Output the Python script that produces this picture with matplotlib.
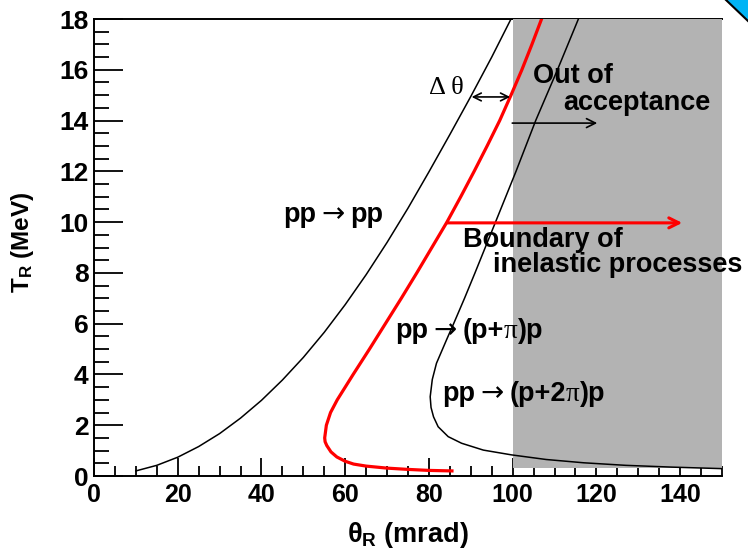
import matplotlib
matplotlib.use("Agg")
import matplotlib.pyplot as plt
from matplotlib.patches import Rectangle, Polygon
from matplotlib.lines import Line2D
from matplotlib.offsetbox import TextArea, HPacker, AnnotationBbox

plt.rcParams['font.family'] = ['Liberation Sans', 'DejaVu Sans']
plt.rcParams['font.weight'] = 'bold'
plt.rcParams['mathtext.fontset'] = 'custom'
plt.rcParams['mathtext.rm'] = 'Liberation Sans:bold'
plt.rcParams['mathtext.bf'] = 'Liberation Sans:bold'
plt.rcParams['mathtext.it'] = 'Liberation Sans:bold'
plt.rcParams['mathtext.sf'] = 'Liberation Sans:bold'

# ---- data ----
# pp -> pp (elastic)
el_theta = [10, 15, 20, 25, 30, 35, 40, 45, 50, 55, 60, 65, 70, 75, 80, 85, 90, 95, 99.6]
el_T = [0.2, 0.42, 0.74, 1.16, 1.67, 2.28, 2.98, 3.78, 4.67, 5.66, 6.75, 7.93, 9.2,
        10.55, 11.98, 13.45, 14.95, 16.5, 18.0]

# pp -> (p+pi)p  (boundary of inelastic processes)
in1_theta = [85.5, 80, 75, 70, 65, 62, 60, 58, 56.6, 55.6, 55.2, 55.1, 55.5, 56.5,
             58.1, 60.0, 61.9, 65.8, 69.6, 73.4, 77.1, 80.7, 84.3, 87.6, 90.8, 93.9,
             96.9, 99.6, 102.2, 104.6, 106.9]
in1_T = [0.2, 0.22, 0.26, 0.31, 0.39, 0.47, 0.58, 0.75, 0.95, 1.2, 1.35, 1.5, 2.0, 2.5,
         3.0, 3.5, 4.0, 5.0, 6.0, 7.0, 8.0, 9.0, 10.0, 11.0, 12.0, 13.0,
         14.0, 15.0, 16.0, 17.0, 18.0]

# pp -> (p+2pi)p
in2_theta = [115.7, 110.7, 105.5, 100.8, 95.9, 91.0, 88.5, 85.9, 84.3, 81.8, 80.8, 80.3,
             80.5, 81.1, 82.2, 84.6, 87.8, 93, 99.8, 108, 117, 127, 138, 150]
in2_T = [18.0, 16, 14, 12, 10, 8, 7, 6, 5.4, 4.44, 3.8, 3.12, 2.7, 2.33, 1.94, 1.55,
         1.29, 1.02, 0.83, 0.65, 0.52, 0.42, 0.35, 0.29]

# out-of-acceptance region
acc_limit = 100
x_max, y_max = 150, 18

fig = plt.figure(figsize=(7.48, 5.5), dpi=100)
ax = fig.add_axes([94 / 748, 1 - 476 / 550, (722 - 94) / 748, (476 - 19) / 550])
ax.set_xlim(0, x_max)
ax.set_ylim(0, y_max)

ax.add_patch(Rectangle((acc_limit, 0.3), x_max - acc_limit, y_max - 0.3,
                       facecolor='#b3b3b3', edgecolor='none', zorder=3))

ax.plot(el_theta, el_T, color='black', lw=1.1, zorder=4)
ax.plot(in1_theta, in1_T, color='#ff0000', lw=2.3, zorder=4, solid_joinstyle='round')
ax.plot(in2_theta, in2_T, color='black', lw=1.1, zorder=4)

# ticks
ax.set_xticks([0, 20, 40, 60, 80, 100, 120, 140])
ax.set_xticks(list(range(0, 151, 5)), minor=True)
ax.set_yticks([0, 2, 4, 6, 8, 10, 12, 14, 16, 18])
ax.set_yticks([i * 0.5 for i in range(0, 37)], minor=True)
ax.tick_params(axis='both', which='both', direction='in', width=1.3, colors='black',
               top=False, right=False)
ax.tick_params(axis='x', which='major', length=13, pad=5, labelsize=18)
ax.tick_params(axis='x', which='minor', length=7)
ax.tick_params(axis='y', which='major', length=21, pad=4, labelsize=19)
ax.tick_params(axis='y', which='minor', length=11)
for lab in ax.get_xticklabels() + ax.get_yticklabels():
    lab.set_fontweight('bold')

for s in ['left', 'bottom', 'top']:
    ax.spines[s].set_linewidth(1.4)
ax.spines['right'].set_visible(False)

FS = 19.5
bold = dict(fontsize=FS, fontweight='bold', family=['Liberation Sans', 'DejaVu Sans'],
            color='black')
arrowp = dict(fontsize=20, fontweight='normal', family=['DejaVu Sans'], color='black')
serif = dict(fontsize=FS, fontweight='normal', family=['Liberation Serif', 'DejaVu Serif'],
             color='black')


def reaction(x, y, rhs):
    parts = [TextArea('pp', textprops=bold), TextArea('→', textprops=arrowp)]
    inner = HPacker(children=[TextArea(t, textprops=p) for t, p in rhs],
                    align='baseline', pad=0, sep=0)
    parts.append(inner)
    box = HPacker(children=parts, align='baseline', pad=0, sep=4)
    ab = AnnotationBbox(box, (x, y), xycoords='data', box_alignment=(0, 0.5),
                        frameon=False, pad=0, zorder=6, annotation_clip=False)
    ax.add_artist(ab)


reaction(45.2, 10.3, [('pp', bold)])
reaction(71.9, 5.75, [('(p+', bold), ('π', serif), (')p', bold)])
reaction(83.1, 3.26, [('(p+2', bold), ('π', serif), (')p', bold)])

tkw = dict(fontsize=FS, fontweight='bold', va='center', ha='left', zorder=6)
ax.text(80.0, 15.3, 'Δ θ', fontsize=19, fontweight='normal', va='center', ha='left',
        family=['Liberation Serif', 'DejaVu Serif'], zorder=6)
ax.text(104.9, 15.75, 'Out of', **tkw)
ax.text(112.0, 14.7, 'acceptance', **tkw)
ax.text(88.2, 9.3, 'Boundary of', **tkw)
ax.text(95.3, 8.3, 'inelastic processes', clip_on=False, **tkw)

ax.annotate('', xy=(99.4, 14.93), xytext=(90.2, 14.93),
            arrowprops=dict(arrowstyle='<->', lw=1.2, color='black',
                            mutation_scale=14, shrinkA=0, shrinkB=0), zorder=6)
ax.annotate('', xy=(120.2, 13.9), xytext=(99.9, 13.9),
            arrowprops=dict(arrowstyle='->', lw=1.2, color='black',
                            mutation_scale=16, shrinkA=0, shrinkB=0), zorder=6)
ax.annotate('', xy=(140.5, 9.97), xytext=(84.3, 9.97),
            arrowprops=dict(arrowstyle='->', lw=2.2, color='#ff0000',
                            mutation_scale=18, shrinkA=0, shrinkB=0), zorder=6)

# axis titles
fig.text(408 / 748, 1 - 535 / 550, r'$\theta_\mathrm{R}$ (mrad)', ha='center',
         va='center', fontsize=19.5, fontweight='bold')
fig.text(22 / 748, 1 - 242 / 550, r'$\mathrm{T}_\mathrm{R}$ (MeV)', ha='center',
         va='center', fontsize=17.5, fontweight='bold', rotation=90)

# slide decoration corner triangle
tri = Polygon([(726 / 748, 1.0), (1.0, 1.0), (1.0, 1 - 21 / 550)], closed=True,
              transform=fig.transFigure, facecolor='#00b4f5', edgecolor='none')
fig.patches.append(tri)
fig.lines.append(Line2D([726 / 748, 1.0], [1.0, 1 - 21 / 550], transform=fig.transFigure,
                        color='black', lw=1.5))

fig.savefig('out.png', dpi=100)
